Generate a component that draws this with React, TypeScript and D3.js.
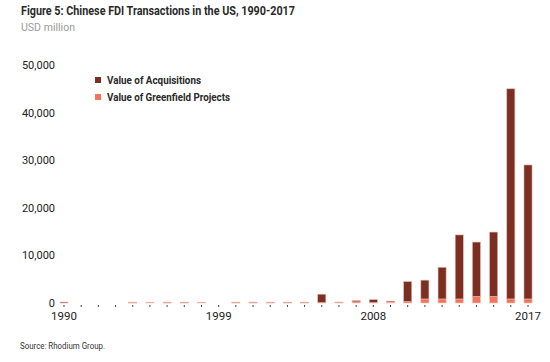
import React, { useRef, useEffect } from 'react';
import * as d3 from 'd3';

// USD million
const years = d3.range(1990, 2018).map(String);
const acquisitions = [
  200, 0, 0, 0, 150, 20, 150, 150, 20, 0,
  150, 150, 150, 150, 150, 1750, 150, 250, 600, 200,
  4200, 3950, 6650, 13450, 11400, 13500, 44150, 28150,
];
const greenfield = [
  0, 0, 0, 0, 30, 150, 30, 30, 150, 0,
  30, 30, 30, 30, 30, 100, 50, 250, 100, 200,
  300, 850, 850, 850, 1400, 1400, 850, 850,
];
const yTicks = [0, 10000, 20000, 30000, 40000, 50000];
const labelYears = ['1990', '1999', '2008', '2017'];
const seriesNames = ['Value of Acquisitions', 'Value of Greenfield Projects'];

const DARK = '#7a2f22';
const LIGHT = '#f4735a';
const FONT = 'Roboto, "Liberation Sans", sans-serif';

const App: React.FC = () => {
  const ref = useRef<SVGSVGElement | null>(null);

  useEffect(() => {
    const svg = d3.select(ref.current);
    svg.selectAll('*').remove();

    const width = 550;
    const height = 362;
    const x0 = 55.4, x1 = 536.6;
    const yBase = 303, yTop = 65;

    const xScale = d3.scaleBand<string>()
      .domain(years)
      .range([x0, x1])
      .paddingInner(0.53)
      .paddingOuter(0.265);
    const yScale = d3.scaleLinear().domain([0, 50000]).range([yBase, yTop]);

    svg.append('rect').attr('width', width).attr('height', height).attr('fill', '#fff');

    // title
    svg.append('text')
      .attr('x', 21).attr('y', 15)
      .attr('font-family', FONT).attr('font-weight', 'bold').attr('font-size', '12.5px')
      .attr('fill', '#2a2a2a')
      .attr('textLength', 274).attr('lengthAdjust', 'spacingAndGlyphs')
      .text('Figure 5: Chinese FDI Transactions in the US, 1990-2017');
    svg.append('text')
      .attr('x', 21).attr('y', 31)
      .attr('font-family', FONT).attr('font-size', '11.5px')
      .attr('fill', '#9a9a9a')
      .attr('textLength', 54).attr('lengthAdjust', 'spacingAndGlyphs')
      .text('USD million');

    // y axis
    svg.append('g')
      .attr('transform', 'translate(55,0)')
      .call(d3.axisLeft(yScale).tickValues(yTicks).tickSize(0).tickPadding(0).tickFormat(d3.format(',')))
      .call(g => g.select('.domain').remove())
      .call(g => g.selectAll('text')
        .attr('font-family', FONT).attr('font-size', '11px').attr('fill', '#222'));

    // x axis
    svg.append('g')
      .attr('transform', `translate(0,${yBase + 2})`)
      .call(d3.axisBottom(xScale).tickSize(2).tickPadding(5)
        .tickFormat(d => (labelYears.includes(d) ? d : '')))
      .call(g => g.select('.domain').remove())
      .call(g => g.selectAll('line').attr('stroke', '#444'))
      .call(g => g.selectAll('text')
        .attr('font-family', FONT).attr('font-size', '11.5px').attr('fill', '#222'));

    // stacked bars
    const bars = svg.append('g');
    years.forEach((yr, i) => {
      const g = greenfield[i];
      const a = acquisitions[i];
      const x = xScale(yr)!;
      const bw = xScale.bandwidth();
      if (g > 0) {
        bars.append('rect')
          .attr('x', x).attr('width', bw)
          .attr('y', yScale(g)).attr('height', yBase - yScale(g))
          .attr('fill', LIGHT).attr('stroke', '#f7c3b6').attr('stroke-width', 0.6);
      }
      if (a > 0) {
        bars.append('rect')
          .attr('x', x).attr('width', bw)
          .attr('y', yScale(g + a)).attr('height', yScale(g) - yScale(g + a))
          .attr('fill', DARK).attr('stroke', '#e8b5a8').attr('stroke-width', 0.6);
      }
    });

    // legend
    const legend = svg.append('g').attr('transform', 'translate(95,77)');
    seriesNames.forEach((name, i) => {
      legend.append('rect')
        .attr('x', 0).attr('y', i * 17)
        .attr('width', 6).attr('height', 6)
        .attr('fill', i === 0 ? DARK : LIGHT);
      legend.append('text')
        .attr('x', 12).attr('y', i * 17 + 7)
        .attr('font-family', FONT).attr('font-weight', 'bold').attr('font-size', '11px')
        .attr('fill', '#2a2a2a')
        .attr('textLength', i === 0 ? 94 : 123).attr('lengthAdjust', 'spacingAndGlyphs')
        .text(name);
    });

    // source
    svg.append('text')
      .attr('x', 20).attr('y', 349)
      .attr('font-family', FONT).attr('font-size', '9px')
      .attr('fill', '#333')
      .attr('textLength', 85).attr('lengthAdjust', 'spacingAndGlyphs')
      .text('Source: Rhodium Group.');
  }, []);

  return (
    <svg
      ref={ref}
      width={550}
      height={362}
      style={{ position: 'absolute', left: 0, top: 0, display: 'block' }}
    />
  );
};

export default App;
